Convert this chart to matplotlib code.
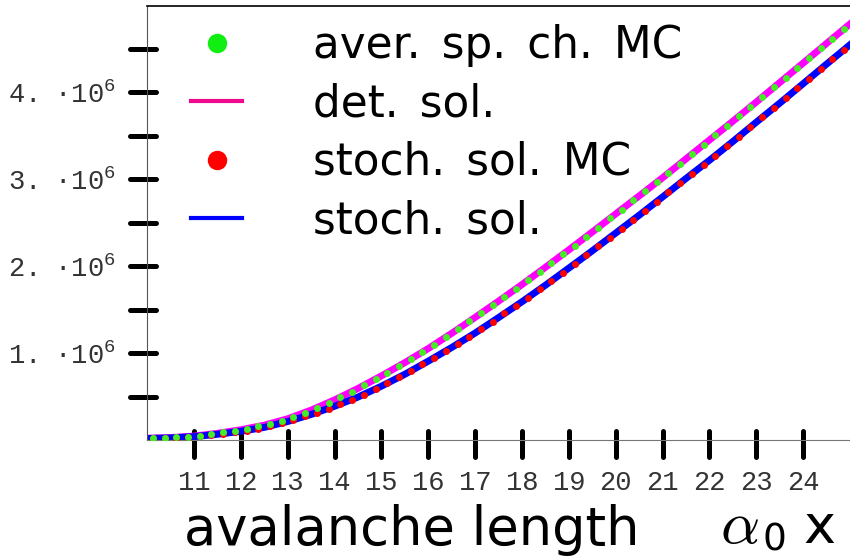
import numpy as np
import matplotlib
matplotlib.use('Agg')
from matplotlib import pyplot as plt
from matplotlib.lines import Line2D
from matplotlib.markers import MarkerStyle
from matplotlib.transforms import Affine2D

plt.rcParams['font.family'] = 'DejaVu Sans'
plt.rcParams['mathtext.fontset'] = 'custom'
plt.rcParams['mathtext.rm'] = 'Liberation Mono'

# Monte Carlo bins (avalanche length, units of alpha_0 x)
mc_x = 10.125 + 0.25 * np.arange(60)

# average number of charges from MC (millions)
aver_mc = [0.022, 0.025, 0.031, 0.039, 0.051, 0.068, 0.087, 0.107, 0.129, 0.156,
           0.187, 0.223, 0.266, 0.316, 0.372, 0.430, 0.492, 0.558, 0.628, 0.700,
           0.775, 0.851, 0.929, 1.010, 1.095, 1.183, 1.272, 1.364, 1.456, 1.549,
           1.645, 1.740, 1.837, 1.937, 2.036, 2.137, 2.237, 2.340, 2.444, 2.548,
           2.651, 2.755, 2.859, 2.962, 3.070, 3.178, 3.288, 3.395, 3.504, 3.611,
           3.722, 3.833, 3.941, 4.056, 4.167, 4.279, 4.391, 4.506, 4.616, 4.728]

# stochastic solution from MC (millions)
stoch_mc = [0.020, 0.022, 0.027, 0.034, 0.044, 0.058, 0.074, 0.091, 0.109, 0.131,
            0.160, 0.194, 0.232, 0.273, 0.316, 0.362, 0.414, 0.465, 0.523, 0.586,
            0.652, 0.722, 0.791, 0.869, 0.946, 1.022, 1.107, 1.188, 1.272, 1.361,
            1.456, 1.544, 1.637, 1.733, 1.828, 1.925, 2.029, 2.124, 2.228, 2.328,
            2.432, 2.536, 2.635, 2.743, 2.847, 2.954, 3.063, 3.165, 3.269, 3.380,
            3.487, 3.599, 3.711, 3.818, 3.930, 4.045, 4.152, 4.267, 4.379, 4.490]

# analytic curves on a half-unit grid (millions)
sol_x = np.linspace(10, 25, 31)
det_sol = [0.020, 0.028, 0.045, 0.077, 0.118, 0.171, 0.244, 0.344, 0.461, 0.593,
           0.737, 0.890, 1.052, 1.227, 1.410, 1.597, 1.788, 1.986, 2.187, 2.392,
           2.600, 2.807, 3.016, 3.233, 3.450, 3.666, 3.887, 4.111, 4.335, 4.561, 4.785]
stoch_sol = [0.018, 0.024, 0.039, 0.066, 0.100, 0.145, 0.213, 0.294, 0.388, 0.494,
             0.619, 0.756, 0.907, 1.064, 1.230, 1.408, 1.590, 1.780, 1.977, 2.176,
             2.380, 2.585, 2.795, 3.008, 3.217, 3.433, 3.655, 3.874, 4.098, 4.323, 4.546]

x_ticks = list(range(11, 25))
y_ticks = [0.5, 1, 1.5, 2, 2.5, 3, 3.5, 4, 4.5]
y_labels = ['', r'$\mathrm{1.\ ·10^{6}}$', '', r'$\mathrm{2.\ ·10^{6}}$', '',
            r'$\mathrm{3.\ ·10^{6}}$', '', r'$\mathrm{4.\ ·10^{6}}$', '']

# word gaps are a little wider than a plain space
gap = ' \u2006'
legend_labels = [gap.join(['aver.', 'sp.', 'ch.', 'MC']),
                 gap.join(['det.', 'sol.']),
                 gap.join(['stoch.', 'sol.', 'MC']),
                 gap.join(['stoch.', 'sol.'])]

fig = plt.figure(figsize=(8.5, 5.57), dpi=100)
ax = fig.add_axes([0.173, 0.21, 0.827, 0.779])

ax.plot(sol_x, np.array(det_sol) * 1e6, color='#ff00ff', lw=5, zorder=2)
ax.plot(sol_x, np.array(stoch_sol) * 1e6, color='#0000ff', lw=5, zorder=2)
ax.plot(mc_x, np.array(stoch_mc) * 1e6, 'o', color='#ff0000', ms=5, mew=0, zorder=3)
ax.plot(mc_x, np.array(aver_mc) * 1e6, 'o', color='#44ee22', ms=5, mew=0, zorder=4)

ax.set_xlim(10, 25)
ax.set_ylim(0, 4.99e6)
ax.set_xticks(x_ticks)
ax.set_xticklabels([str(t) for t in x_ticks])
ax.set_yticks(np.array(y_ticks) * 1e6)
ax.set_yticklabels(y_labels)

# spines: gray axes, black frame on top, nothing on the right
ax.spines['right'].set_visible(False)
ax.spines['left'].set_color('#555555')
ax.spines['bottom'].set_color('#777777')
ax.spines['top'].set_color('black')
ax.spines['top'].set_linewidth(1.2)

ax.tick_params(axis='both', direction='out', length=18.7, width=3.6, color='black',
               labelsize=19.5, labelcolor='#333333')
ax.tick_params(axis='x', pad=3)
ax.tick_params(axis='y', pad=4)
for lab in ax.get_xticklabels() + ax.get_yticklabels():
    lab.set_fontfamily('Liberation Mono')

# thick rounded ticks crossing the axis (longer outside than inside)
for t in ax.yaxis.get_major_ticks():
    t.tick1line.set_marker(MarkerStyle('_', capstyle='round',
                                       transform=Affine2D().translate(-0.15, 0)))
for t in ax.xaxis.get_major_ticks():
    t.tick1line.set_marker(MarkerStyle('|', capstyle='round',
                                       transform=Affine2D().translate(0, -0.15)))

handles = [Line2D([], [], ls='none', marker='o', ms=14, mew=0, color='#11ee11'),
           Line2D([], [], color='#ee0a8c', lw=3),
           Line2D([], [], ls='none', marker='o', ms=14, mew=0, color='#ff0000'),
           Line2D([], [], color='#0000ff', lw=3)]
ax.legend(handles, legend_labels, loc='upper left', bbox_to_anchor=(0.063, 0.958),
          frameon=False, fontsize=31.5, handlelength=1.16, handletextpad=1.62,
          labelspacing=0.35, borderpad=0, borderaxespad=0)

fig.text(0.485, 0.022, 'avalanche length', fontsize=38, ha='center', va='baseline')
fig.text(0.847, 0.025, r'$\alpha$', fontsize=44, ha='left', va='baseline',
         math_fontfamily='cm')
fig.text(0.897, 0.012, '0', fontsize=27, ha='left', va='baseline')
fig.text(0.945, 0.025, 'x', fontsize=39, ha='left', va='baseline')

fig.savefig('out.png', dpi=100)
